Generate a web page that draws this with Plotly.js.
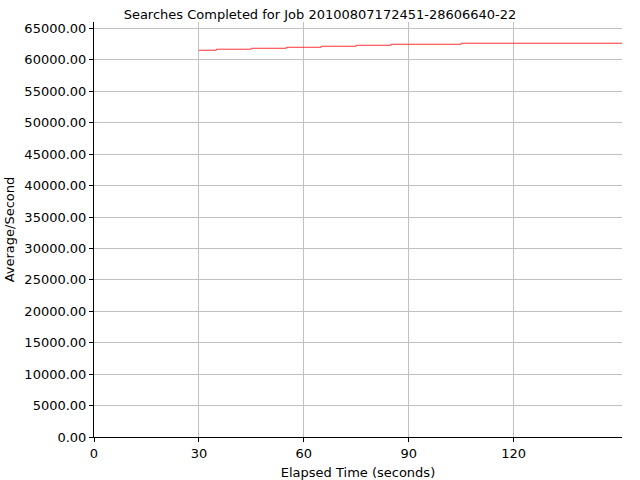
<!DOCTYPE html>
<html>
<head>
<meta charset="utf-8">
<script src="https://cdn.plot.ly/plotly-3.0.1.min.js"></script>
<style>html,body{margin:0;padding:0;background:#fff;}#chart{width:640px;height:480px;}</style>
</head>
<body>
<div id="chart"></div>
<script>
var elapsedSeconds = [30, 35, 45, 55, 65, 75, 85, 105, 151];
var averagePerSecond = [61540, 61700, 61850, 62010, 62170, 62330, 62490, 62650, 62650];
var xTickValues = [0, 30, 60, 90, 120];
var chartTitle = 'Searches Completed for Job 20100807172451-28606640-22';

var font = {family: 'DejaVu Sans, sans-serif', size: 13, color: '#000'};
Plotly.newPlot('chart', [{
  x: elapsedSeconds,
  y: averagePerSecond,
  type: 'scatter',
  mode: 'lines',
  line: {shape: 'hv', color: '#ff3333', width: 1},
  hoverinfo: 'none'
}], {
  width: 640, height: 480,
  margin: {l: 94, r: 18, t: 22, b: 43},
  paper_bgcolor: '#fff', plot_bgcolor: '#fff',
  font: font,
  showlegend: false,
  title: {text: chartTitle, font: font, x: 0.5, xanchor: 'center', y: 0.97, yanchor: 'middle'},
  xaxis: {
    range: [0, 151], tickvals: xTickValues, ticktext: xTickValues.map(String),
    showgrid: true, gridcolor: '#c0c0c0', gridwidth: 1,
    showline: true, linecolor: '#000', linewidth: 1,
    ticks: 'outside', ticklen: 4, tickcolor: '#000',
    zeroline: false, tickfont: font,
    title: {text: 'Elapsed Time (seconds)', font: font, standoff: 10}
  },
  yaxis: {
    range: [0, 66030], dtick: 5000, tick0: 0, tickformat: '.2f',
    showgrid: true, gridcolor: '#c0c0c0', gridwidth: 1,
    showline: true, linecolor: '#000', linewidth: 1,
    ticks: 'outside', ticklen: 4, tickcolor: '#000',
    zeroline: false, tickfont: font,
    title: {text: 'Average/Second', font: font, standoff: 6}
  }
}, {staticPlot: true, displayModeBar: false});
</script>
</body>
</html>
